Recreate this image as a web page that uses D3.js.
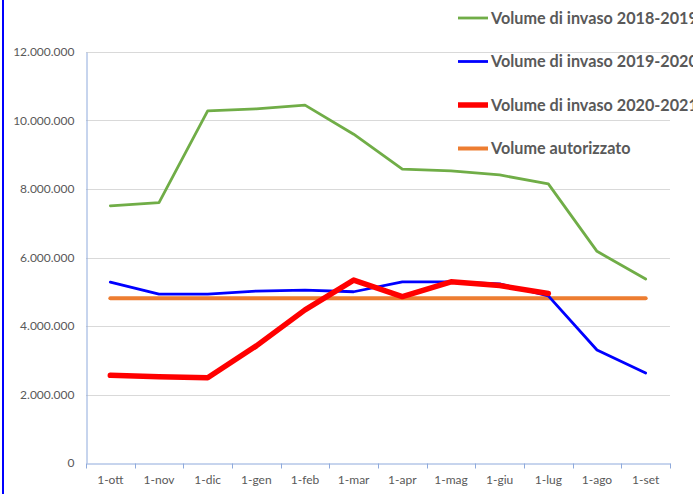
<!DOCTYPE html>
<html lang="it">
<head>
<meta charset="UTF-8">
<title>Volume di invaso</title>
<script src="https://d3js.org/d3.v7.min.js"></script>
<style>
    body { margin: 0; background: #fff; }
    svg { display: block; }
    .tick text { font-family: Lato, sans-serif; font-size: 12px; fill: #595959; }
    .legend_text { font-family: Lato, sans-serif; font-size: 16.2px; font-weight: bold; fill: #595959; }
</style>
</head>
<body>
<svg width="693" height="494"></svg>
<script>
    const months = ["1-ott", "1-nov", "1-dic", "1-gen", "1-feb", "1-mar",
        "1-apr", "1-mag", "1-giu", "1-lug", "1-ago", "1-set"];

    const vol1819 = [7510000, 7600000, 10280000, 10340000, 10450000, 9600000,
        8580000, 8530000, 8410000, 8150000, 6180000, 5370000];
    const vol1920 = [5280000, 4930000, 4930000, 5020000, 5050000, 5000000,
        5290000, 5290000, 5230000, 4880000, 3300000, 2630000];
    const vol2021 = [2560000, 2520000, 2490000, 3420000, 4470000, 5340000,
        4860000, 5290000, 5180000, 4950000];
    const volAut = [4810000, 4810000, 4810000, 4810000, 4810000, 4810000,
        4810000, 4810000, 4810000, 4810000, 4810000, 4810000];

    const yTicks = [0, 2000000, 4000000, 6000000, 8000000, 10000000, 12000000];

    const series = [
        {name: "Volume di invaso 2018-2019", values: vol1819, color: "#70ad47", width: 2.8},
        {name: "Volume di invaso 2019-2020", values: vol1920, color: "#0000ff", width: 2.8},
        {name: "Volume di invaso 2020-2021", values: vol2021, color: "#ff0000", width: 5.5},
        {name: "Volume autorizzato", values: volAut, color: "#ed7d31", width: 4}
    ];

    const svg = d3.select("svg");
    const margin = {left: 86, right: 23, top: 52, bottom: 31};
    const W = 693, H = 494;

    const x = d3.scaleBand().domain(months).range([margin.left, W - margin.right]);
    const y = d3.scaleLinear().domain([0, 12000000]).range([H - margin.bottom, margin.top]);

    const fmt = v => d3.format(",")(v).replace(/,/g, ".");

    // left border of the frame
    svg.append("line")
        .attr("x1", 3).attr("x2", 3).attr("y1", 0).attr("y2", H)
        .attr("stroke", "#0000ff").attr("stroke-width", 2);

    // gridlines
    svg.append("g")
        .selectAll("line")
        .data(yTicks.filter(d => d > 0))
        .enter()
        .append("line")
        .attr("x1", margin.left).attr("x2", W - margin.right)
        .attr("y1", d => Math.round(y(d)) + 0.5).attr("y2", d => Math.round(y(d)) + 0.5)
        .attr("stroke", "#d9d9d9").attr("stroke-width", 1);

    // y axis
    const yAxis = svg.append("g")
        .attr("transform", `translate(${margin.left + 0.5},0)`)
        .call(d3.axisLeft(y).tickValues(yTicks).tickFormat(fmt).tickSize(0).tickPadding(12));
    yAxis.select(".domain").attr("stroke", "#8faadc");

    // x axis
    const xAxis = svg.append("g")
        .attr("transform", `translate(0,${Math.round(y(0)) + 0.5})`)
        .call(d3.axisBottom(x).tickSize(0).tickPadding(12));
    xAxis.select(".domain").attr("stroke", "#8faadc");
    xAxis.selectAll(".tick line").remove();

    // category boundary ticks
    const edges = months.map(m => x(m)).concat([W - margin.right]);
    xAxis.selectAll(".edge")
        .data(edges)
        .enter()
        .append("line")
        .attr("class", "edge")
        .attr("x1", d => Math.round(d) + 0.5).attr("x2", d => Math.round(d) + 0.5)
        .attr("y1", 0).attr("y2", 5)
        .attr("stroke", "#8faadc");

    const line = d3.line()
        .x((d, i) => x(months[i]) + x.bandwidth() / 2)
        .y(d => y(d));

    // draw in stacking order: green, orange, blue, red
    const order = [0, 3, 1, 2];
    svg.append("g")
        .selectAll("path")
        .data(order.map(i => series[i]))
        .enter()
        .append("path")
        .attr("d", d => line(d.values))
        .attr("fill", "none")
        .attr("stroke", d => d.color)
        .attr("stroke-width", d => d.width)
        .attr("stroke-linejoin", "round")
        .attr("stroke-linecap", "round");

    // legend
    const legend = svg.append("g")
        .selectAll("g")
        .data(series)
        .enter()
        .append("g")
        .attr("transform", (d, i) => `translate(458,${18 + i * 43.5})`);

    legend.append("line")
        .attr("x1", 0).attr("x2", 30)
        .attr("stroke", d => d.color)
        .attr("stroke-width", d => d.width);

    legend.append("text")
        .attr("class", "legend_text")
        .attr("x", 33)
        .attr("dy", "0.36em")
        .text(d => d.name);
</script>
</body>
</html>
